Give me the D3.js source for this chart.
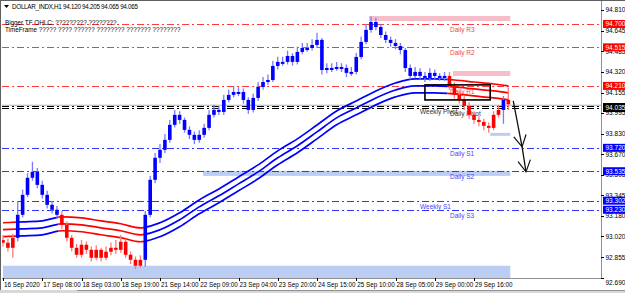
<!DOCTYPE html>
<meta charset="utf-8">
<style>
body{margin:0;background:#fff;}
svg{display:block;font-family:"Liberation Sans",Arial,sans-serif;}
</style>
<svg width="625" height="293"></svg>
<script src="https://d3js.org/d3.v7.min.js"></script>
<script>

// H1 bars, one entry per ~2 hours
var opens = [
92.990, 92.969, 92.929, 93.008, 93.190, 93.348, 93.483, 93.530, 93.427, 93.348,
93.269, 93.230, 93.190, 93.111, 93.008, 92.929, 92.874, 92.953, 92.913, 92.850,
92.913, 92.850, 92.898, 92.929, 92.913, 92.977, 92.874, 92.834, 92.787, 92.834,
93.190, 93.467, 93.641, 93.704, 93.783, 93.902, 93.981, 93.941, 93.862, 93.823,
93.783, 93.823, 93.878, 93.981, 94.020, 94.004, 94.099, 94.139, 94.162, 94.162,
94.099, 94.020, 94.115, 94.202, 94.241, 94.257, 94.368, 94.400, 94.400, 94.447,
94.400, 94.479, 94.510, 94.510, 94.534, 94.574, 94.336, 94.352, 94.352, 94.360,
94.352, 94.313, 94.321, 94.439, 94.558, 94.653, 94.716, 94.676, 94.613, 94.574,
94.550, 94.526, 94.494, 94.352, 94.289, 94.321, 94.289, 94.273, 94.313, 94.289,
94.273, 94.289, 94.210, 94.139, 94.099, 94.052, 93.981, 93.941, 93.925, 93.894,
93.878, 93.981, 94.020, 94.100];
var closes = [
92.969, 92.929, 93.008, 93.190, 93.348, 93.483, 93.530, 93.427, 93.348, 93.269,
93.230, 93.190, 93.111, 93.008, 92.929, 92.874, 92.953, 92.913, 92.850, 92.913,
92.850, 92.898, 92.929, 92.913, 92.977, 92.874, 92.834, 92.787, 92.834, 93.190,
93.467, 93.641, 93.704, 93.783, 93.902, 93.981, 93.941, 93.862, 93.823, 93.783,
93.823, 93.878, 93.981, 94.020, 94.004, 94.099, 94.139, 94.162, 94.162, 94.099,
94.020, 94.115, 94.202, 94.241, 94.257, 94.368, 94.400, 94.400, 94.447, 94.400,
94.479, 94.510, 94.510, 94.534, 94.574, 94.336, 94.352, 94.352, 94.360, 94.352,
94.313, 94.321, 94.439, 94.558, 94.653, 94.716, 94.676, 94.613, 94.574, 94.550,
94.526, 94.494, 94.352, 94.289, 94.321, 94.289, 94.273, 94.313, 94.289, 94.273,
94.289, 94.210, 94.139, 94.099, 94.052, 93.981, 93.941, 93.925, 93.894, 93.878,
93.981, 94.020, 94.100, 94.065];
var highs = [
93.030, 93.000, 93.040, 93.300, 93.390, 93.520, 93.610, 93.560, 93.460, 93.380,
93.300, 93.260, 93.220, 93.140, 93.030, 92.960, 92.990, 92.980, 92.940, 92.950,
92.930, 92.940, 92.970, 92.990, 93.030, 93.000, 92.900, 92.860, 92.870, 93.220,
93.500, 93.680, 93.750, 93.830, 93.940, 94.020, 94.010, 93.960, 93.890, 93.850,
93.860, 93.910, 94.020, 94.060, 94.050, 94.140, 94.180, 94.210, 94.200, 94.190,
94.120, 94.150, 94.240, 94.280, 94.300, 94.410, 94.440, 94.440, 94.490, 94.470,
94.520, 94.550, 94.550, 94.580, 94.630, 94.590, 94.390, 94.390, 94.400, 94.390,
94.380, 94.360, 94.470, 94.600, 94.700, 94.760, 94.750, 94.700, 94.640, 94.600,
94.580, 94.550, 94.510, 94.380, 94.360, 94.350, 94.320, 94.350, 94.340, 94.310,
94.320, 94.320, 94.240, 94.170, 94.130, 94.080, 94.010, 93.970, 93.950, 93.920,
94.010, 94.060, 94.130, 94.195];
var lows = [
92.940, 92.900, 92.850, 92.980, 93.170, 93.330, 93.460, 93.400, 93.320, 93.240,
93.200, 93.160, 93.080, 92.980, 92.900, 92.850, 92.850, 92.880, 92.820, 92.830,
92.820, 92.830, 92.870, 92.880, 92.890, 92.850, 92.800, 92.760, 92.770, 92.780,
93.170, 93.440, 93.600, 93.680, 93.760, 93.880, 93.910, 93.840, 93.790, 93.750,
93.760, 93.800, 93.860, 93.960, 93.980, 93.980, 94.080, 94.120, 94.130, 94.070,
93.990, 94.000, 94.090, 94.180, 94.220, 94.240, 94.340, 94.370, 94.380, 94.370,
94.380, 94.460, 94.480, 94.490, 94.510, 94.300, 94.310, 94.320, 94.330, 94.320,
94.280, 94.290, 94.300, 94.420, 94.540, 94.630, 94.650, 94.590, 94.550, 94.520,
94.500, 94.460, 94.320, 94.260, 94.270, 94.260, 94.240, 94.250, 94.260, 94.250,
94.250, 94.180, 94.110, 94.070, 94.020, 93.950, 93.910, 93.890, 93.860, 93.840,
93.860, 93.960, 93.910, 94.020];
// bar index ranges drawn in the "down" colour
var barDown = [[0, 2], [12, 28], [91, 101], [103, 103]];

// envelope (MA channel), sampled every 4 bars
var maIdx = [0, 4, 8, 12, 16, 20, 24, 28, 32, 36, 40, 44, 48, 52, 56, 60, 64, 68, 72, 76, 80, 84, 88, 92, 96, 100, 103];
var maUpper = [93.127, 93.134, 93.142, 93.174, 93.166, 93.142, 93.119, 93.087, 93.127, 93.206, 93.308, 93.395, 93.490, 93.585, 93.696, 93.791, 93.901, 94.012, 94.091, 94.170, 94.233, 94.265, 94.265, 94.257, 94.241, 94.225, 94.210];
var maMid = [93.072, 93.079, 93.087, 93.119, 93.111, 93.087, 93.064, 93.032, 93.072, 93.151, 93.253, 93.340, 93.435, 93.530, 93.641, 93.736, 93.846, 93.957, 94.036, 94.115, 94.178, 94.210, 94.210, 94.202, 94.186, 94.170, 94.155];
var maLower = [93.017, 93.024, 93.032, 93.064, 93.056, 93.032, 93.009, 92.977, 93.017, 93.096, 93.198, 93.285, 93.380, 93.475, 93.586, 93.681, 93.791, 93.902, 93.981, 94.060, 94.123, 94.155, 94.155, 94.147, 94.131, 94.115, 94.100];
var maDown = [[0, 2.5], [11.3, 28.6], [90.6, 104]];

// time axis
var timeTickIdx = [0, 8, 16, 24, 32, 40, 48, 56, 64, 72, 80, 88, 96];
var timeTickLabels = ["16 Sep 2020", "17 Sep 08:00", "18 Sep 03:00", "18 Sep 19:00", "21 Sep 14:00",
  "22 Sep 09:00", "23 Sep 04:00", "23 Sep 20:00", "24 Sep 15:00", "25 Sep 10:00",
  "28 Sep 05:00", "29 Sep 00:00", "29 Sep 16:00"];
var priceTicks = [94.810, 94.645, 94.485, 94.320, 94.155, 93.995, 93.830, 93.670, 93.505, 93.345, 93.180, 93.020, 92.855, 92.690];

// pivot levels
var pivotNames = ["Daily R3", "Daily R2", "Daily R1", "Weekly Pivot", "Daily Pivot", "Daily S1", "Daily S2", "Weekly S1", "Daily S3"];
var pivotValues = [94.700, 94.515, 94.210, 94.050, 94.035, 93.720, 93.535, 93.302, 93.230];
var pivotKind = ["r", "r", "r", "p", "p", "s", "s", "s", "s"];
var bid = 94.065;

// supply / demand zones (bar index from-to, price hi-lo)
var zoneFrom = [74.6, 91.7, 0, 40.8, 99.3];
var zoneTo = [103.4, 103.4, 103.4, 103.4, 103.4];
var zoneHi = [94.763, 94.328, 92.787, 93.538, 93.838];
var zoneLo = [94.724, 94.289, 92.690, 93.498, 93.815];
var zoneKind = ["supply", "supply", "demand", "demand", "demand"];

// drawn box and arrow
var boxIdx = [86.0, 99.3], boxPrice = [94.218, 94.099];
var arrowIdx = [104.0, 105.8, 106.6], arrowPrice = [94.091, 93.728, 93.530];

var svg = d3.select("svg");
var L = 2, R = 601, T = 2, B = 278;

var x = d3.scaleLinear().domain([0, 96]).range([3, 474]);
var y = d3.scaleLinear().domain([92.690, 94.874]).range([B, T]);

function isIn(ranges, i) {
  return ranges.some(function(r) { return i >= r[0] && i <= r[1]; });
}

var defs = svg.append("defs");
defs.append("clipPath").attr("id", "plot")
  .append("rect").attr("x", L).attr("y", T).attr("width", R - L).attr("height", B - T);

var plot = svg.append("g").attr("clip-path", "url(#plot)");

// zones
plot.selectAll(".zone").data(zoneFrom).enter().append("rect")
  .attr("x", function(d) { return x(d); })
  .attr("width", function(d, i) { return x(zoneTo[i]) - x(d); })
  .attr("y", function(d, i) { return y(zoneHi[i]); })
  .attr("height", function(d, i) { return y(zoneLo[i]) - y(zoneHi[i]); })
  .attr("fill", function(d, i) { return zoneKind[i] == "supply" ? "#f7bdc9" : "#bccdf3"; });

// bid line
plot.append("line").attr("x1", L).attr("x2", R).attr("y1", y(bid) + 1).attr("y2", y(bid) + 1)
  .attr("stroke", "#b0b0b0").attr("stroke-width", 1);

// pivot lines
var lineCol = {r: "#ff3b3b", p: "#000", s: "#3434ff"};
var textCol = {r: "#f04848", p: "#333", s: "#4646ff"};
plot.selectAll(".pv").data(pivotValues).enter().append("line")
  .attr("x1", L).attr("x2", R)
  .attr("y1", function(d) { return Math.round(y(d)) + 0.5; })
  .attr("y2", function(d) { return Math.round(y(d)) + 0.5; })
  .attr("stroke", function(d, i) { return lineCol[pivotKind[i]]; })
  .attr("stroke-width", 1)
  .attr("stroke-dasharray", "7,3,2,3");

plot.selectAll(".pvt").data(pivotValues).enter().append("text")
  .attr("x", function(d, i) { return pivotNames[i].indexOf("Weekly") == 0 ? 420 : 450; })
  .attr("y", function(d) { return y(d) + 8; })
  .attr("font-size", "6.5px")
  .attr("fill", function(d, i) { return textCol[pivotKind[i]]; })
  .text(function(d, i) { return pivotNames[i]; });

// envelope lines
defs.selectAll(".cd").data(maDown).enter().append("clipPath").attr("id", function(d, i) { return "down" + i; })
  .append("rect").attr("x", function(d) { return x(d[0]); }).attr("width", function(d) { return x(d[1]) - x(d[0]); })
  .attr("y", 0).attr("height", 293);
var upRanges = [];
var prev = -2;
maDown.forEach(function(r) { upRanges.push([prev, r[0]]); prev = r[1]; });
upRanges.push([prev, 110]);
defs.selectAll(".cu").data(upRanges).enter().append("clipPath").attr("id", function(d, i) { return "up" + i; })
  .append("rect").attr("x", function(d) { return x(d[0]); }).attr("width", function(d) { return x(d[1]) - x(d[0]); })
  .attr("y", 0).attr("height", 293);

var maLine = d3.line().x(function(d) { return x(d[0]); }).y(function(d) { return y(d[1]); }).curve(d3.curveMonotoneX);
[maUpper, maMid, maLower].forEach(function(s) {
  var pts = maIdx.map(function(d, i) { return [d, s[i]]; });
  upRanges.forEach(function(r, k) {
    plot.append("path").attr("d", maLine(pts)).attr("fill", "none")
      .attr("stroke", "#0000ff").attr("stroke-width", 1.7).attr("clip-path", "url(#up" + k + ")");
  });
  maDown.forEach(function(r, k) {
    plot.append("path").attr("d", maLine(pts)).attr("fill", "none")
      .attr("stroke", "#ff0000").attr("stroke-width", 1.7).attr("clip-path", "url(#down" + k + ")");
  });
});

// bars
var bars = plot.selectAll(".bar").data(closes).enter().append("g");
bars.append("line")
  .attr("x1", function(d, i) { return x(i); }).attr("x2", function(d, i) { return x(i); })
  .attr("y1", function(d, i) { return y(highs[i]); }).attr("y2", function(d, i) { return y(lows[i]); })
  .attr("stroke", function(d, i) { return isIn(barDown, i) ? "#ff7a7a" : "#7a7aff"; })
  .attr("stroke-width", 1.3);
bars.append("rect")
  .attr("x", function(d, i) { return x(i) - 1.8; })
  .attr("width", 3.6)
  .attr("y", function(d, i) { return y(Math.max(opens[i], d)); })
  .attr("height", function(d, i) { return Math.max(2, Math.abs(y(opens[i]) - y(d))); })
  .attr("fill", function(d, i) { return isIn(barDown, i) ? "#ff0000" : "#0000ff"; });

// box + arrow
plot.append("rect")
  .attr("x", x(boxIdx[0])).attr("y", y(boxPrice[0]))
  .attr("width", x(boxIdx[1]) - x(boxIdx[0])).attr("height", y(boxPrice[1]) - y(boxPrice[0]))
  .attr("fill", "none").attr("stroke", "#000").attr("stroke-width", 1.6);

var ap = arrowIdx.map(function(d, i) { return [x(d), y(arrowPrice[i])]; });
plot.append("path").attr("d", d3.line()(ap)).attr("fill", "none").attr("stroke", "#111").attr("stroke-width", 1.3);
function head(p, from) {
  var a = Math.atan2(p[1] - from[1], p[0] - from[0]);
  var len = 13, sp = 0.5;
  var pts = [[p[0] - len * Math.cos(a - sp), p[1] - len * Math.sin(a - sp)], p, [p[0] - len * Math.cos(a + sp), p[1] - len * Math.sin(a + sp)]];
  plot.append("path").attr("d", d3.line()(pts)).attr("fill", "none").attr("stroke", "#111").attr("stroke-width", 1.2);
}
head(ap[1], ap[0]);
head(ap[2], ap[1]);

// frame
svg.append("line").attr("x1", 0).attr("x2", 625).attr("y1", 0.5).attr("y2", 0.5).attr("stroke", "#606060");
svg.append("line").attr("x1", 0.5).attr("x2", 0.5).attr("y1", 0).attr("y2", 290).attr("stroke", "#606060");
svg.append("line").attr("x1", R + 0.5).attr("x2", R + 0.5).attr("y1", 1).attr("y2", B + 0.5).attr("stroke", "#909090");
svg.append("line").attr("x1", L).attr("x2", R + 1).attr("y1", B + 0.5).attr("y2", B + 0.5).attr("stroke", "#909090");
svg.append("rect").attr("x", 0).attr("y", 290).attr("width", 625).attr("height", 3).attr("fill", "#d8d8d8");
svg.append("line").attr("x1", 77).attr("x2", 625).attr("y1", 290.5).attr("y2", 290.5).attr("stroke", "#909090");

// price axis
var pa = svg.append("g").attr("font-size", "6.5px");
pa.selectAll(".pt").data(priceTicks).enter().append("line")
  .attr("x1", R).attr("x2", R + 3)
  .attr("y1", function(d) { return Math.round(y(d)) + 0.5; }).attr("y2", function(d) { return Math.round(y(d)) + 0.5; })
  .attr("stroke", "#000");
pa.selectAll(".ptl").data(priceTicks).enter().append("text")
  .attr("x", R + 4.5)
  .attr("y", function(d) { var v = y(d) + 2.4; return v > 276 ? v + 5 : v; })
  .text(function(d) { return d3.format(".3f")(d); });

// level labels: the two pivots share one black box
var boxBg = {r: "#ff0000", p: "#000", s: "#0000ff"};
var shown = pivotValues.filter(function(d, i) { return pivotNames[i] != "Weekly Pivot"; });
var shownKind = pivotKind.filter(function(d, i) { return pivotNames[i] != "Weekly Pivot"; });
var lbl = pa.selectAll(".pl").data(shown).enter().append("g")
  .attr("transform", function(d) { return "translate(" + (R + 2) + "," + y(d) + ")"; });
lbl.append("rect").attr("x", 0).attr("y", function(d, i) { return shownKind[i] == "p" ? -5 : -4; })
  .attr("width", 22).attr("height", function(d, i) { return shownKind[i] == "p" ? 9 : 8; })
  .attr("fill", function(d, i) { return boxBg[shownKind[i]]; });
lbl.append("text").attr("x", 2.5).attr("y", 2.4).attr("fill", "#fff")
  .text(function(d) { return d3.format(".3f")(d); });

// time axis
var ta = svg.append("g").attr("font-size", "6.3px");
ta.selectAll(".tt").data(timeTickIdx).enter().append("line")
  .attr("x1", function(d) { return Math.round(x(d)) + 0.5; }).attr("x2", function(d) { return Math.round(x(d)) + 0.5; })
  .attr("y1", B).attr("y2", B + 3).attr("stroke", "#000");
ta.selectAll(".ttl").data(timeTickIdx).enter().append("text")
  .attr("x", function(d) { return x(d) + 1; }).attr("y", B + 8.5)
  .text(function(d, i) { return timeTickLabels[i]; });

// header
var hd = svg.append("g").attr("font-size", "6.3px").attr("fill", "#000");
hd.append("path").attr("d", "M4,5 L9,5 L6.5,8 Z").attr("fill", "#000");
hd.append("text").attr("x", 12).attr("y", 9).attr("textLength", 126).text("DOLLAR_INDX,H1  94.120 94.205 94.065 94.065");
hd.append("text").attr("x", 5).attr("y", 24.5).text("Bigger TF OHLC: ????????? ????????");
hd.append("text").attr("x", 5).attr("y", 31.5).text("TimeFrame ????? ???? ?????? ???????? ??????? ????????");

</script>
